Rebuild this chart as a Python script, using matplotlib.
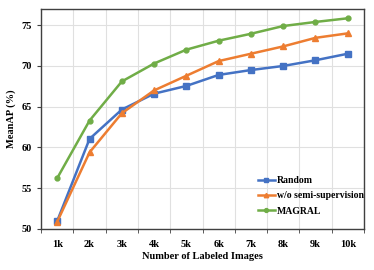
import numpy as np
import matplotlib.pyplot as plt
from matplotlib.ticker import FixedLocator

plt.rcParams['font.family'] = ['Liberation Serif', 'DejaVu Serif']

labels = ["1k", "2k", "3k", "4k", "5k", "6k", "7k", "8k", "9k", "10k"]
random_map = [51.0, 61.05, 64.65, 66.6, 67.55, 68.9, 69.5, 70.0, 70.7, 71.5]
no_semi_map = [50.9, 59.4, 64.2, 67.0, 68.8, 70.6, 71.5, 72.4, 73.45, 74.0]
magral_map = [56.25, 63.3, 68.1, 70.3, 72.0, 73.1, 73.95, 74.9, 75.4, 75.85]

x = np.arange(1, len(labels) + 1)

fig = plt.figure(figsize=(3.74, 2.70), dpi=100)
ax = fig.add_axes([0.11, 0.152, 0.863, 0.815])

ax.plot(x, random_map, color="#4472C4", marker="s", markersize=4, lw=1.8, label="Random")
ax.plot(x, no_semi_map, color="#ED7D31", marker="^", markersize=4, lw=1.8, label="w/o semi-supervision")
ax.plot(x, magral_map, color="#70AD47", marker="o", markersize=3.5, lw=1.8, label="MAGRAL")

ax.set_xlim(0.5, 10.5)
ax.set_ylim(50, 77)
ax.set_yticks([50, 55, 60, 65, 70, 75])
ax.set_xticks(x)
ax.set_xticklabels(labels)
ax.xaxis.set_minor_locator(FixedLocator(np.arange(0.5, 11, 1.0)))
ax.tick_params(axis="x", which="major", length=0, pad=8)
ax.tick_params(axis="x", which="minor", length=3, direction="out", color="#404040")
ax.tick_params(axis="y", length=3, direction="out", color="#404040")
for t in ax.get_xticklabels() + ax.get_yticklabels():
    t.set_fontsize(7.5)
    t.set_fontweight("bold")

ax.grid(True, axis="y", which="major", color="#e0e0e0", lw=0.8)
ax.grid(True, axis="x", which="minor", color="#e0e0e0", lw=0.8)
ax.set_axisbelow(True)
for s in ax.spines.values():
    s.set_color("#404040")
    s.set_linewidth(1.0)

ax.set_xlabel("Number of Labeled Images", fontsize=7.5, fontweight="bold", labelpad=2)
ax.set_ylabel("MeanAP (%)", fontsize=7.5, fontweight="bold", labelpad=4)

ax.legend(loc="lower right", bbox_to_anchor=(1.02, 0.03), frameon=False,
          prop={"size": 7, "weight": "bold"}, handlelength=1.7, handletextpad=0.2,
          labelspacing=0.65, borderpad=0.2, markerscale=0.8)

fig.savefig("out.png", dpi=100)
